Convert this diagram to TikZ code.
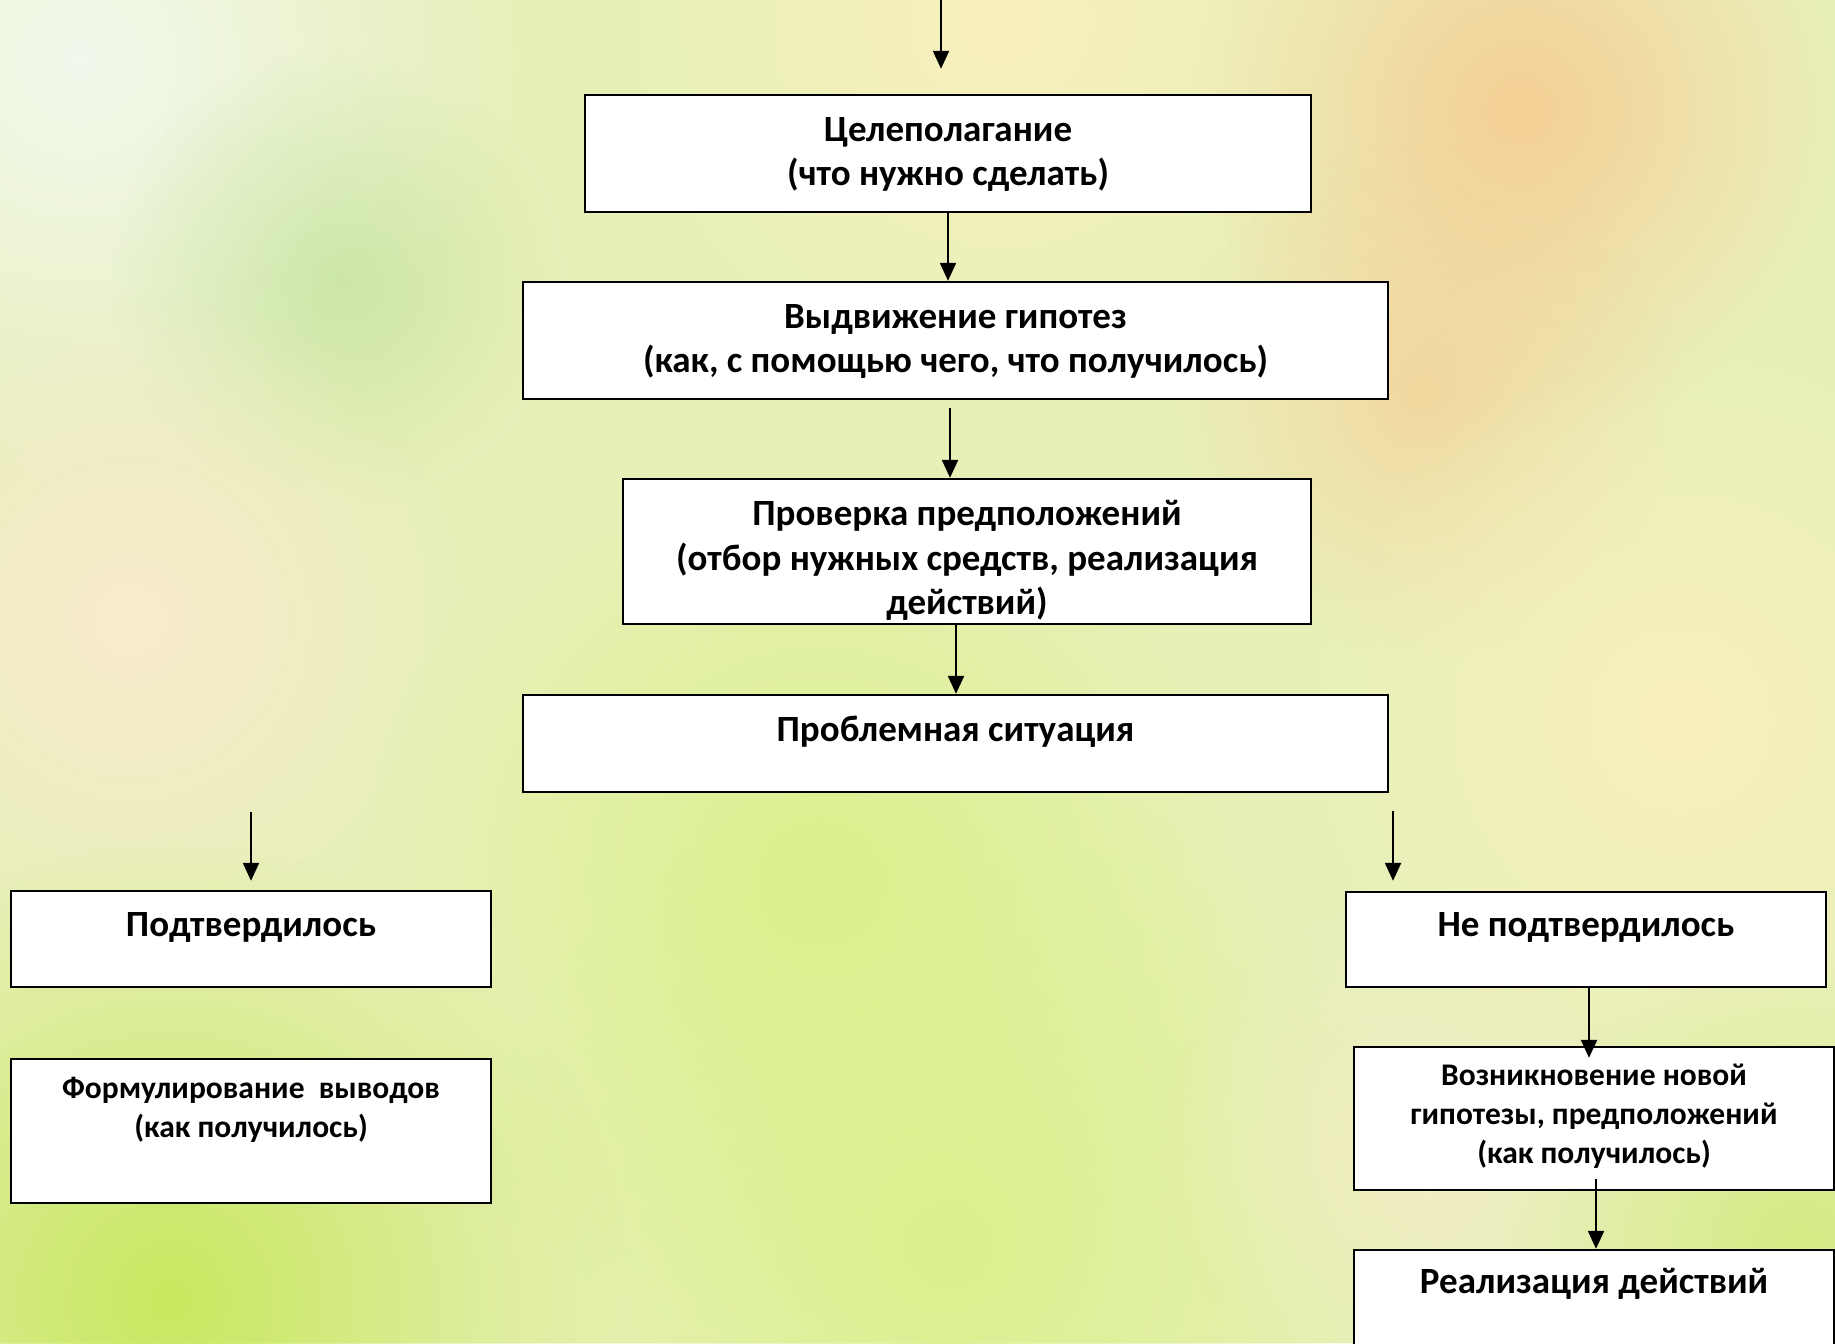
\documentclass[tikz,border=0pt]{standalone}
\usepackage{fontspec}
\setmainfont{Carlito}
\usetikzlibrary{arrows.meta,positioning,fadings}
\definecolor{bgbase}{RGB}{232,240,186}
\definecolor{peach}{RGB}{246,208,150}
\definecolor{cream}{RGB}{249,236,205}
\definecolor{mint}{RGB}{241,248,236}
\definecolor{leaf}{RGB}{186,224,150}
\definecolor{lime}{RGB}{200,232,95}
\definecolor{limelight}{RGB}{218,240,140}
\definecolor{paleyel}{RGB}{249,240,190}
\tikzfading[name=soft blob, inner color=transparent!0, outer color=transparent!100]

\tikzset{
  box/.style={draw=black, fill=white, line width=2.4pt, inner sep=0pt},
  big/.style={font=\fontsize{37}{44.5}\selectfont\bfseries, align=center, anchor=base, inner sep=0pt},
  small/.style={font=\fontsize{31.5}{39}\selectfont\bfseries, align=center, anchor=base, inner sep=0pt},
  arr/.style={line width=2.2pt, -{Triangle[length=18pt,width=16pt]}},
  blob/.style={fill=#1, path fading=soft blob}
}

\begin{document}
\begin{tikzpicture}[x=1pt,y=-1pt]
   \useasboundingbox (0,0) rectangle (1835,1343);
   \clip (0,0) rectangle (1835,1343);

   %Fondo
   \fill[bgbase] (0,0) rectangle (1835,1343);
   \fill[blob=mint] (80,60) circle (440);
   \fill[blob=paleyel] (1000,20) circle (380);
   \fill[blob=peach] (1520,110) circle (330);
   \fill[blob=peach, opacity=0.7] (1420,400) circle (260);
   \fill[blob=leaf, opacity=0.6] (340,280) circle (230);
   \fill[blob=cream] (130,620) circle (330);
   \fill[blob=paleyel] (1680,720) circle (380);
   \fill[blob=limelight] (820,880) circle (460);
   \fill[blob=lime] (170,1300) circle (460);
   \fill[blob=limelight] (950,1250) circle (480);
   \fill[blob=lime, opacity=0.6] (1800,1250) circle (300);
   \fill[blob=cream, opacity=0.6] (1400,1150) circle (240);

   %Cajas
   \node[box, minimum width=726pt, minimum height=117pt] (goal) at (948,153.5) {};
   \node[box, minimum width=865pt, minimum height=117pt] (hyp) at (955.5,340.5) {};
   \node[box, minimum width=688pt, minimum height=145pt] (check) at (967,551.5) {};
   \node[box, minimum width=865pt, minimum height=97pt] (prob) at (955.5,743.5) {};
   \node[box, minimum width=480pt, minimum height=96pt] (yes) at (251,939) {};
   \node[box, minimum width=480pt, minimum height=144pt] (concl) at (251,1131) {};
   \node[box, minimum width=480pt, minimum height=95pt] (no) at (1586,939.5) {};
   \node[box, minimum width=480pt, minimum height=143pt] (newhyp) at (1594,1118.5) {};
   \node[box, minimum width=480pt, minimum height=160pt] (act) at (1594,1330) {};

   %Textos (la base es la ultima linea)
   \node[big] (goal-t) at ([yshift=-92pt]goal.north) {Целеполагание\\(что нужно сделать)};
   \node[big] (hyp-t) at ([yshift=-92pt]hyp.north) {Выдвижение гипотез\\(как, с помощью чего, что получилось)};
   \node[big] (check-t) at ([yshift=-137pt]check.north) {Проверка предположений\\(отбор нужных средств, реализация\\действий)};
   \node[big] (prob-t) at ([yshift=-48pt]prob.north) {Проблемная ситуация};
   \node[big] (yes-t) at ([yshift=-47pt]yes.north) {Подтвердилось};
   \node[small] (concl-t) at ([yshift=-80pt]concl.north) {Формулирование\ \ выводов\\(как получилось)};
   \node[big] (no-t) at ([yshift=-46pt]no.north) {Не подтвердилось};
   \node[small] (newhyp-t) at ([yshift=-118pt]newhyp.north) {Возникновение новой\\гипотезы, предположений\\(как получилось)};
   \node[big] (act-t) at ([yshift=-45pt]act.north) {Реализация действий};

   %Flechas
   \coordinate (topstart) at (941,0);
   \coordinate (yesfrom) at (251,812);
   \coordinate (nofrom) at (1393,811);
   \draw[arr, shorten >=25pt] (topstart) -- (topstart |- goal.north);
   \draw[arr] (goal.south) -- (goal.south |- hyp.north);
   \draw[arr, shorten <=8pt] ([xshift=-5.5pt]hyp.south) -- ([xshift=-5.5pt]hyp.south |- check.north);
   \draw[arr] ([xshift=-11pt]check.south) -- ([xshift=-11pt]check.south |- prob.north);
   \draw[arr, shorten >=9pt] (yesfrom) -- (yes.north);
   \draw[arr, shorten >=10pt] (nofrom) -- (nofrom |- no.north);
   \draw[arr, shorten >=-12pt] ([xshift=3pt]no.south) -- ([xshift=3pt]no.south |- newhyp.north);
   \draw[arr, shorten <=-12pt] ([xshift=2pt]newhyp.south) -- ([xshift=2pt]newhyp.south |- act.north);
\end{tikzpicture}
\end{document}
